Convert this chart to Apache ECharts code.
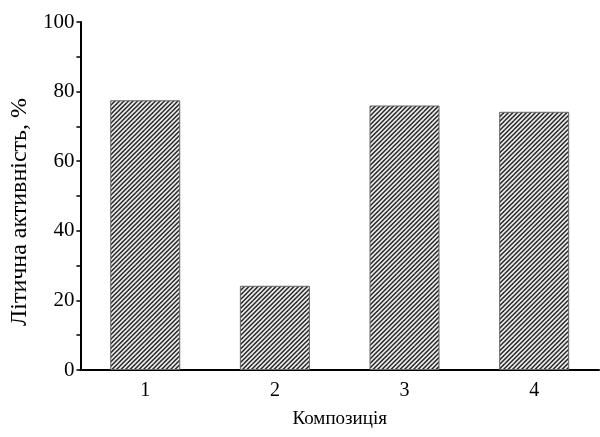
<!DOCTYPE html>
<html>
<head>
<meta charset="utf-8">
<script src="https://cdn.jsdelivr.net/npm/echarts@6/dist/echarts.min.js"></script>
<style>html,body{margin:0;padding:0;background:#fff}#c{width:600px;height:437px}</style>
</head>
<body>
<div id="c"></div>
<script>
var categories = ['1', '2', '3', '4'];
var values = [77.5, 24.2, 76.0, 74.2];
var yTicks = [0, 20, 40, 60, 80, 100];

function hatch() {
  var s = 9;
  var c = document.createElement('canvas');
  c.width = s; c.height = s;
  var g = c.getContext('2d');
  g.fillStyle = '#ececec';
  g.fillRect(0, 0, s, s);
  g.strokeStyle = '#262626';
  g.lineWidth = 1.5;
  // lines x + y = const  (slope "/")
  for (var k = -1; k <= 5; k++) {
    var c2 = k * 4.5;
    g.beginPath();
    g.moveTo(c2 - 2 * s, 2 * s);
    g.lineTo(c2 + 2 * s, -2 * s);
    g.stroke();
  }
  return c;
}

var chart = echarts.init(document.getElementById('c'), null, {renderer: 'canvas'});
var font = 'Liberation Serif';
chart.setOption({
  animation: false,
  grid: {left: 80, right: 1, top: 22, bottom: 67},
  xAxis: {
    type: 'category',
    data: categories,
    name: 'Композиція',
    nameLocation: 'middle',
    nameGap: 40,
    nameTextStyle: {fontFamily: font, fontSize: 19, color: '#000'},
    axisLine: {lineStyle: {color: '#000', width: 2}},
    axisTick: {show: false},
    axisLabel: {fontFamily: font, fontSize: 20, color: '#000', margin: 11}
  },
  yAxis: {
    type: 'value',
    min: 0, max: 100, interval: 20,
    name: 'Літична активність, %',
    nameLocation: 'middle',
    nameGap: 45,
    nameTextStyle: {fontFamily: font, fontSize: 24, color: '#000', padding: [0, 32, 0, 0]},
    axisLine: {show: true, lineStyle: {color: '#000', width: 2}},
    axisTick: {show: true, length: 4, lineStyle: {color: '#000', width: 1.5}},
    minorTick: {show: true, splitNumber: 2, length: 4, lineStyle: {color: '#000', width: 1.5}},
    splitLine: {show: false},
    axisLabel: {fontFamily: font, fontSize: 21, color: '#000', margin: 6,
      formatter: function (v) { return yTicks.indexOf(v) >= 0 ? String(v) : ''; }}
  },
  series: [{
    type: 'bar',
    data: values,
    barWidth: 70,
    itemStyle: {
      color: {image: hatch(), repeat: 'repeat'},
      borderColor: '#666',
      borderWidth: 1
    }
  }]
});
</script>
</body>
</html>
